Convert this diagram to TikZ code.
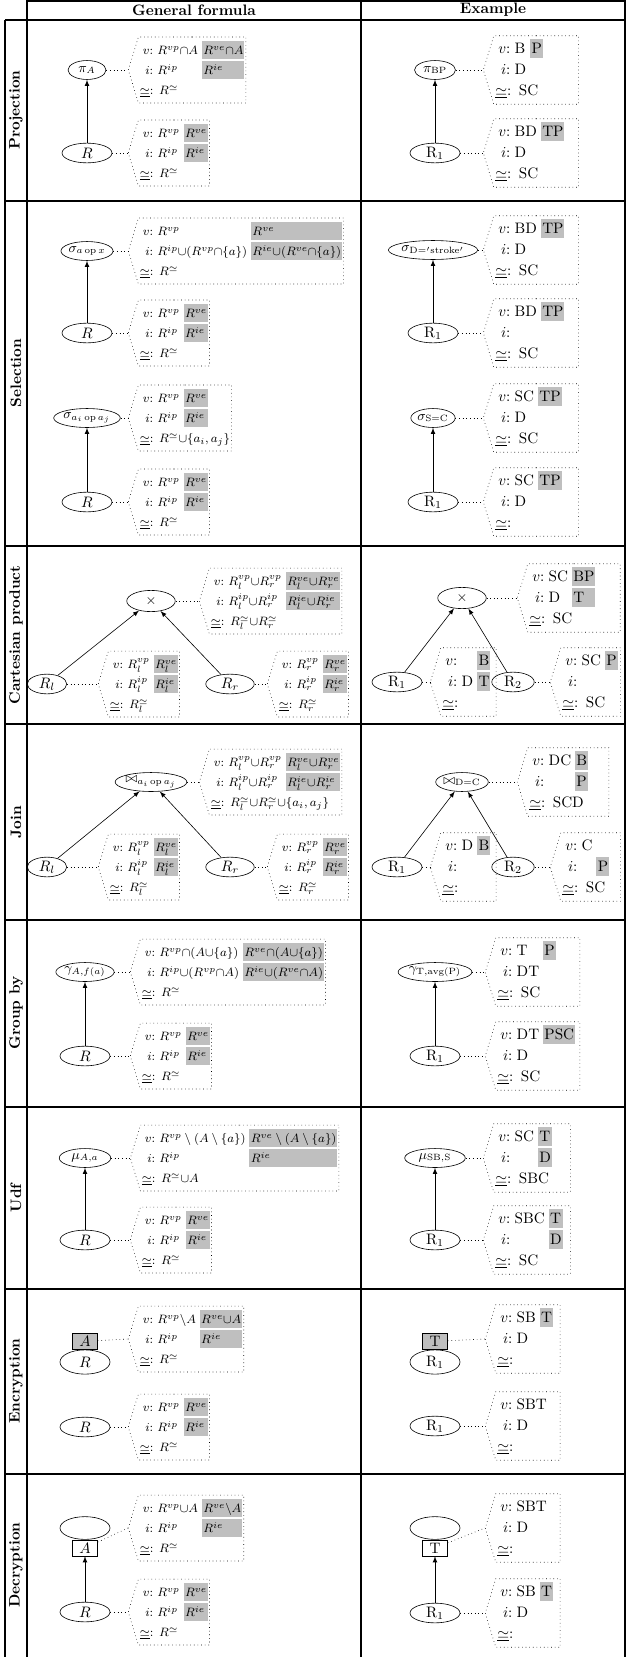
\documentclass[tikz,border=0pt]{standalone}
\usepackage{amsmath,amssymb}
\usepackage{tikz}
\usetikzlibrary{shapes.geometric,shapes.symbols,positioning}

\definecolor{encgray}{gray}{0.75}

\newlength{\encw}
\newlength{\encwb}
\newcommand{\rowstrut}{\rule[-3pt]{0pt}{12pt}}
\newcommand{\enc}[1]{\if\relax\detokenize{#1}\relax\else{\setlength{\fboxsep}{0pt}\colorbox{encgray}{\rowstrut\makebox[\encw][l]{\hspace{1pt}#1}}}\fi}
\newcommand{\info}[5]{%
  \settowidth{\encw}{\hspace{1.6pt}#2}\settowidth{\encwb}{\hspace{1.6pt}#4}%
  \ifdim\encwb>\encw\setlength{\encw}{\encwb}\fi
  \begin{tabular}{@{\hspace{2pt}}r@{\hspace{2.8pt}}l@{\hspace{2.5pt}}l@{}}
    \rowstrut$v$: & #1 & \enc{#2}\\[1.3pt]
    \rowstrut$i$: & #3 & \enc{#4}\\[1.3pt]
    \multicolumn{3}{@{}l@{}}{\rowstrut$\underline{\simeq}$: #5}
  \end{tabular}}

\begin{document}
\begin{tikzpicture}[x=0.66pt,y=-0.66pt,>=latex,
  rel/.style={ellipse,draw,inner sep=0pt,minimum height=13pt,minimum width=33pt},
  op/.style={ellipse,draw,inner sep=0pt,minimum height=12.5pt,font=\small},
  attr/.style={rectangle,draw,minimum width=16.5pt,minimum height=10.5pt,inner sep=0pt},
  info/.style={signal,signal to=west,signal pointer angle=146,draw,dotted,inner xsep=1pt,inner ysep=2.4pt,minimum height=43.5pt,anchor=west,font=\footnotesize},
  xinfo/.style={info,font=\normalsize,text width=#1},
  link/.style={dotted},
  tabline/.style={line width=1.2pt},
  rowlabel/.style={rotate=90,font=\bfseries}]

\useasboundingbox (0,0) rectangle (626,1657);

\draw[tabline] (27,1) -- (625,1);
\draw[tabline] (5,20) -- (625,20);
\foreach \y in {201,546,724,920,1107,1289,1474}
  \draw[tabline] (5,\y) -- (625,\y);
\draw[tabline] (5,20) -- (5,1657);
\foreach \x in {27,361,625}
  \draw[tabline] (\x,0) -- (\x,1657);

\node[font=\bfseries] (hgen) at (194,10) {General formula};
\node[font=\bfseries] (hex) at (493,10) {Example};

\foreach \y/\name in {110/Projection,373/Selection,635/Cartesian product,822/Join,1013/Group by,1198/Udf,1381/Encryption,1565/Decryption}
  \node[rowlabel] (row\y) at (16,\y) {\name};

\node[op,minimum width=25pt] (pA) at (87,70) {$\pi_A$};
\node[rel] (pR) at (87,153) {$R$};
\draw[->] (pR) -- (pA);
\node[info] (pAi) at (128,70) {\info{$R^{vp}{\cap}A$}{$R^{ve}{\cap}A$}{$R^{ip}$}{$R^{ie}$}{$R^{\simeq}$}};
\node[info] (pRi) at (128,153) {\info{$R^{vp}$}{$R^{ve}$}{$R^{ip}$}{$R^{ie}$}{$R^{\simeq}$}};
\draw[link] (pA) -- (pAi.west);
\draw[link] (pR) -- (pRi.west);

\node[op,minimum width=27pt] (xpA) at (435,70) {$\pi_{\mathrm{BP}}$};
\node[rel] (xpR) at (435,153) {R$_1$};
\draw[->] (xpR) -- (xpA);
\node[xinfo=54pt] (xpAi) at (483,70) {\info{B}{P}{D}{}{SC}};
\node[xinfo=54pt] (xpRi) at (483,153) {\info{BD}{TP}{D}{}{SC}};
\draw[link] (xpA) -- (xpAi.west);
\draw[link] (xpR) -- (xpRi.west);

\node[op,minimum width=31pt] (sA) at (87,251) {$\sigma_{a\,\mathrm{op}\,x}$};
\node[rel] (sR) at (87,333) {$R$};
\draw[->] (sR) -- (sA);
\node[info] (sAi) at (128,251) {\info{$R^{vp}$}{$R^{ve}$}{$R^{ip}{\cup}(R^{vp}{\cap}\{a\})$}{$R^{ie}{\cup}(R^{ve}{\cap}\{a\})$}{$R^{\simeq}$}};
\node[info] (sRi) at (128,333) {\info{$R^{vp}$}{$R^{ve}$}{$R^{ip}$}{$R^{ie}$}{$R^{\simeq}$}};
\draw[link] (sA) -- (sAi.west);
\draw[link] (sR) -- (sRi.west);

\node[op,minimum width=31pt] (sB) at (87,418) {$\sigma_{a_i\,\mathrm{op}\,a_j}$};
\node[rel] (sS) at (87,502) {$R$};
\draw[->] (sS) -- (sB);
\node[info] (sBi) at (128,418) {\info{$R^{vp}$}{$R^{ve}$}{$R^{ip}$}{$R^{ie}$}{$R^{\simeq}{\cup}\{a_i,a_j\}$}};
\node[info] (sSi) at (128,502) {\info{$R^{vp}$}{$R^{ve}$}{$R^{ip}$}{$R^{ie}$}{$R^{\simeq}$}};
\draw[link] (sB) -- (sBi.west);
\draw[link] (sS) -- (sSi.west);

\node[op,minimum width=49pt] (xsA) at (433,250) {$\sigma_{\mathrm{D}='\mathrm{stroke}'}$};
\node[rel] (xsR) at (433,333) {R$_1$};
\draw[->] (xsR) -- (xsA);
\node[xinfo=54pt] (xsAi) at (483,250) {\info{BD}{TP}{D}{}{SC}};
\node[xinfo=54pt] (xsRi) at (483,333) {\info{BD}{TP}{}{}{SC}};
\draw[link] (xsA) -- (xsAi.west);
\draw[link] (xsR) -- (xsRi.west);

\node[op,minimum width=27pt] (xsB) at (433,418) {$\sigma_{\mathrm{S=C}}$};
\node[rel] (xsS) at (433,502) {R$_1$};
\draw[->] (xsS) -- (xsB);
\node[xinfo=54pt] (xsBi) at (483,418) {\info{SC}{TP}{D}{}{SC}};
\node[xinfo=54pt] (xsSi) at (483,502) {\info{SC}{TP}{D}{}{}};
\draw[link] (xsB) -- (xsBi.west);
\draw[link] (xsS) -- (xsSi.west);

\node[op,minimum width=32pt,minimum height=14pt] (cX) at (151,601) {$\times$};
\node[rel,minimum width=26pt] (cL) at (47,684) {$R_l$};
\node[rel,minimum width=32pt] (cR) at (230,684) {$R_r$};
\draw[->] (cL) -- (cX);
\draw[->] (cR) -- (cX);
\node[info] (cXi) at (199,601) {\info{$R_l^{vp}{\cup}R_r^{vp}$}{$R_l^{ve}{\cup}R_r^{ve}$}{$R_l^{ip}{\cup}R_r^{ip}$}{$R_l^{ie}{\cup}R_r^{ie}$}{$R_l^{\simeq}{\cup}R_r^{\simeq}$}};
\node[info] (cLi) at (98,684) {\info{$R_l^{vp}$}{$R_l^{ve}$}{$R_l^{ip}$}{$R_l^{ie}$}{$R_l^{\simeq}$}};
\node[info] (cRi) at (267,684) {\info{$R_r^{vp}$}{$R_r^{ve}$}{$R_r^{ip}$}{$R_r^{ie}$}{$R_r^{\simeq}$}};
\draw[link] (cX) -- (cXi.west);
\draw[link] (cL) -- (cLi.west);
\draw[link] (cR) -- (cRi.west);

\node[op,minimum width=32pt,minimum height=14pt] (xcX) at (462,598) {$\times$};
\node[rel] (xcL) at (397,682) {R$_1$};
\node[rel,minimum width=28pt] (xcR) at (513,682) {R$_2$};
\draw[->] (xcL) -- (xcX);
\draw[->] (xcR) -- (xcX);
\node[xinfo=59pt] (xcXi) at (517,598) {\info{SC}{BP}{D}{T}{SC}};
\node[xinfo=34.5pt] (xcLi) at (430,682) {\info{}{B}{D}{T}{}};
\node[xinfo=37.5pt] (xcRi) at (550,682) {\info{SC}{P}{}{}{SC}};
\draw[link] (xcX) -- (xcXi.west);
\draw[link] (xcL) -- (xcLi.west);
\draw[link] (xcR) -- (xcRi.west);

\node[op,minimum width=34pt] (jX) at (151,782) {$\bowtie_{a_i\,\mathrm{op}\,a_j}$};
\node[rel,minimum width=26pt] (jL) at (47,867) {$R_l$};
\node[rel,minimum width=32pt] (jR) at (230,867) {$R_r$};
\draw[->] (jL) -- (jX);
\draw[->] (jR) -- (jX);
\node[info] (jXi) at (199,782) {\info{$R_l^{vp}{\cup}R_r^{vp}$}{$R_l^{ve}{\cup}R_r^{ve}$}{$R_l^{ip}{\cup}R_r^{ip}$}{$R_l^{ie}{\cup}R_r^{ie}$}{$R_l^{\simeq}{\cup}R_r^{\simeq}{\cup}\{a_i,a_j\}$}};
\node[info] (jLi) at (98,867) {\info{$R_l^{vp}$}{$R_l^{ve}$}{$R_l^{ip}$}{$R_l^{ie}$}{$R_l^{\simeq}$}};
\node[info] (jRi) at (267,867) {\info{$R_r^{vp}$}{$R_r^{ve}$}{$R_r^{ip}$}{$R_r^{ie}$}{$R_r^{\simeq}$}};
\draw[link] (jX) -- (jXi.west);
\draw[link] (jL) -- (jLi.west);
\draw[link] (jR) -- (jRi.west);

\node[op,minimum width=27pt] (xjX) at (462,782) {$\bowtie_{\mathrm{D=C}}$};
\node[rel] (xjL) at (397,867) {R$_1$};
\node[rel,minimum width=28pt] (xjR) at (513,867) {R$_2$};
\draw[->] (xjL) -- (xjX);
\draw[->] (xjR) -- (xjX);
\node[xinfo=51.5pt] (xjXi) at (517,782) {\info{DC}{B}{}{P}{SCD}};
\node[xinfo=34.5pt] (xjLi) at (430,867) {\info{D}{B}{}{}{}};
\node[xinfo=37.5pt] (xjRi) at (550,867) {\info{C}{}{}{P}{SC}};
\draw[link] (xjX) -- (xjXi.west);
\draw[link] (xjL) -- (xjLi.west);
\draw[link] (xjR) -- (xjRi.west);

\node[op,minimum width=34pt] (gA) at (85,972) {$\gamma_{A,f(a)}$};
\node[rel] (gR) at (85,1056) {$R$};
\draw[->] (gR) -- (gA);
\node[info] (gAi) at (130,972) {\info{$R^{vp}{\cap}(A{\cup}\{a\})$}{$R^{ve}{\cap}(A{\cup}\{a\})$}{$R^{ip}{\cup}(R^{vp}{\cap}A)$}{$R^{ie}{\cup}(R^{ve}{\cap}A)$}{$R^{\simeq}$}};
\node[info] (gRi) at (130,1056) {\info{$R^{vp}$}{$R^{ve}$}{$R^{ip}$}{$R^{ie}$}{$R^{\simeq}$}};
\draw[link] (gA) -- (gAi.west);
\draw[link] (gR) -- (gRi.west);

\node[op,minimum width=41pt] (xgA) at (435,972) {$\gamma_{\mathrm{T,avg(P)}}$};
\node[rel] (xgR) at (435,1056) {R$_1$};
\draw[->] (xgR) -- (xgA);
\node[xinfo=53.5pt] (xgAi) at (485,972) {\info{T}{P}{DT}{}{SC}};
\node[xinfo=53.5pt] (xgRi) at (485,1056) {\info{DT}{PSC}{D}{}{SC}};
\draw[link] (xgA) -- (xgAi.west);
\draw[link] (xgR) -- (xgRi.west);

\node[op,minimum width=34pt] (uA) at (85,1158) {$\mu_{A,a}$};
\node[rel] (uR) at (85,1240) {$R$};
\draw[->] (uR) -- (uA);
\node[info] (uAi) at (130,1158) {\info{$R^{vp}\setminus(A\setminus\{a\})$}{$R^{ve}\setminus(A\setminus\{a\})$}{$R^{ip}$}{$R^{ie}$}{$R^{\simeq}{\cup}A$}};
\node[info] (uRi) at (130,1240) {\info{$R^{vp}$}{$R^{ve}$}{$R^{ip}$}{$R^{ie}$}{$R^{\simeq}$}};
\draw[link] (uA) -- (uAi.west);
\draw[link] (uR) -- (uRi.west);

\node[op,minimum width=40pt] (xuA) at (435,1158) {$\mu_{\mathrm{SB,S}}$};
\node[rel] (xuR) at (435,1240) {R$_1$};
\draw[->] (xuR) -- (xuA);
\node[xinfo=48.5pt] (xuAi) at (483,1158) {\info{SC}{T}{}{D}{SBC}};
\node[xinfo=48.5pt] (xuRi) at (483,1240) {\info{SBC}{T}{}{D}{SC}};
\draw[link] (xuA) -- (xuAi.west);
\draw[link] (xuR) -- (xuRi.west);

\node[rel,minimum height=16pt] (eR) at (85,1362) {$R$};
\node[attr,fill=encgray,above=0pt of eR] (eA) {$A$};
\node[rel] (eS) at (85,1427) {$R$};
\node[info] (eAi) at (128,1339) {\info{$R^{vp}{\setminus}A$}{$R^{ve}{\cup}A$}{$R^{ip}$}{$R^{ie}$}{$R^{\simeq}$}};
\node[info] (eSi) at (128,1427) {\info{$R^{vp}$}{$R^{ve}$}{$R^{ip}$}{$R^{ie}$}{$R^{\simeq}$}};
\draw[link] (eA) -- (eAi.west);
\draw[link] (eS) -- (eSi.west);

\node[rel,minimum height=16pt] (xeR) at (435,1362) {R$_1$};
\node[attr,fill=encgray,above=0pt of xeR] (xeA) {T};
\node[rel] (xeS) at (435,1426) {R$_1$};
\node[xinfo=40.5pt] (xeAi) at (485,1339) {\info{SB}{T}{D}{}{}};
\node[xinfo=40.5pt] (xeSi) at (485,1426) {\info{SBT}{}{D}{}{}};
\draw[link] (xeA) -- (xeAi.west);
\draw[link] (xeS) -- (xeSi.west);

\node[rel,minimum height=15pt] (dE) at (85,1528) {};
\node[attr,below=0pt of dE] (dA) {$A$};
\node[rel] (dR) at (85,1612) {$R$};
\draw[->] (dR) -- (dA);
\node[info] (dEi) at (128,1528) {\info{$R^{vp}{\cup}A$}{$R^{ve}{\setminus}A$}{$R^{ip}$}{$R^{ie}$}{$R^{\simeq}$}};
\node[info] (dRi) at (128,1612) {\info{$R^{vp}$}{$R^{ve}$}{$R^{ip}$}{$R^{ie}$}{$R^{\simeq}$}};
\draw[link] (dA) -- (dEi.west);
\draw[link] (dR) -- (dRi.west);

\node[rel,minimum height=15pt] (xdE) at (435,1528) {};
\node[attr,below=0pt of xdE] (xdA) {T};
\node[rel] (xdR) at (435,1613) {R$_1$};
\draw[->] (xdR) -- (xdA);
\node[xinfo=40.5pt] (xdEi) at (485,1528) {\info{SBT}{}{D}{}{}};
\node[xinfo=40.5pt] (xdRi) at (485,1613) {\info{SB}{T}{D}{}{}};
\draw[link] (xdA) -- (xdEi.west);
\draw[link] (xdR) -- (xdRi.west);

\end{tikzpicture}
\end{document}
